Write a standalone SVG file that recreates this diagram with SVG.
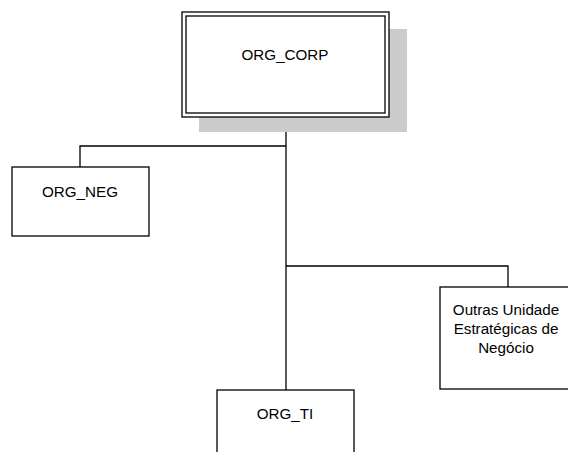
<svg xmlns="http://www.w3.org/2000/svg" width="568" height="452" viewBox="0 0 568 452">
<style>
.box{fill:#fff;stroke:#000;stroke-width:1.3}
.line{fill:none;stroke:#000;stroke-width:1.3}
text{font-family:"Liberation Sans",Arial,sans-serif;font-size:15.2px;fill:#000;text-anchor:middle}
</style>
<rect x="0" y="0" width="568" height="452" fill="#fff"/>
<g id="connectors">
<path class="line" d="M286,117 V390"/>
<path class="line" d="M286,146 H80 V167"/>
<path class="line" d="M286,266 H508 V287"/>
</g>
<g id="org_corp">
<rect x="199" y="29" width="208" height="103" fill="#cccccc"/>
<rect class="box" x="182" y="12" width="207" height="105"/>
<rect class="box" x="186" y="16" width="199" height="97"/>
<text x="285" y="60">ORG_CORP</text>
</g>
<g id="org_neg">
<rect class="box" x="12" y="167" width="137" height="69"/>
<text x="80" y="197">ORG_NEG</text>
</g>
<g id="outras">
<rect class="box" x="440" y="287" width="134" height="102"/>
<text x="506" y="315">Outras Unidade</text>
<text x="506" y="334">Estratégicas de</text>
<text x="506" y="353">Negócio</text>
</g>
<g id="org_ti">
<rect class="box" x="217" y="390" width="137" height="70"/>
<text x="285" y="419">ORG_TI</text>
</g>
</svg>
